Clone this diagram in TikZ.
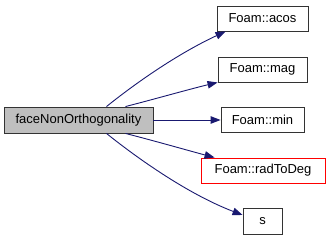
\documentclass[tikz,border=0pt]{standalone}
\usepackage{fontspec}
\setmainfont{Liberation Sans}
\usetikzlibrary{arrows.meta}
\definecolor{edgeblue}{HTML}{191970}
\definecolor{boxgray}{HTML}{BFBFBF}
\begin{document}
\begin{tikzpicture}[x=1pt,y=-1pt,
  fn/.style={draw=black!80,line width=0.9pt,fill=white,inner sep=0pt,
    font=\fontsize{13}{15}\selectfont,minimum height=25pt},
  call/.style={draw=edgeblue,line width=0.9pt,
    -{Triangle[length=10pt,width=7.5pt]}}]
\useasboundingbox (0,0) rectangle (331,240);

\node[fn,fill=boxgray,minimum width=149pt,minimum height=26pt] (main) at (78.5,120) {faceNonOrthogonality};
\node[fn,minimum width=91pt] (acos) at (262.5,18.5) {Foam::acos};
\node[fn,minimum width=89pt] (mag) at (262.5,69.5) {Foam::mag};
\node[fn,minimum width=83pt] (min) at (262.5,120) {Foam::min};
\node[fn,draw=red,minimum width=124pt] (rad) at (263,170.5) {Foam::radToDeg};
\node[fn,minimum width=39pt,minimum height=26pt] (s) at (262.5,221) {s};

\draw[call] ([xshift=28pt]main.north) .. controls (132,86) and (175,55) .. ([xshift=9pt]acos.south west);
\draw[call] ([xshift=47pt]main.north) .. controls (155,99) and (190,89) .. (mag.south west);
\draw[call] (main.east) -- (min.west);
\draw[call] ([xshift=47pt]main.south) .. controls (155,141) and (190,151) .. ([xshift=14pt]rad.north west);
\draw[call] ([xshift=28pt]main.south) .. controls (132,154) and (185,193) .. ([yshift=6pt]s.west);
\end{tikzpicture}
\end{document}
